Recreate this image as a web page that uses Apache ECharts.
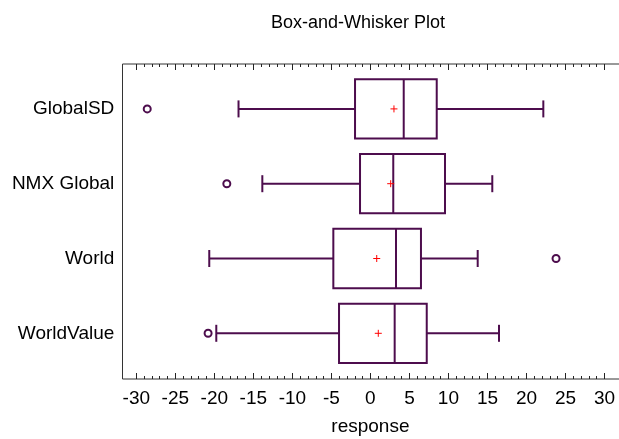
<!DOCTYPE html>
<html>
<head>
<meta charset="utf-8">
<script src="https://cdn.jsdelivr.net/npm/echarts@6/dist/echarts.min.js"></script>
<style>
html,body{margin:0;padding:0;background:#fff;}
#chart{width:619px;height:439px;}
</style>
</head>
<body>
<div id="chart"></div>
<script>
const categories = ['GlobalSD', 'NMX Global', 'World', 'WorldValue'];
const lowWhisker = [-16.9, -13.85, -20.65, -19.75];
const q1 = [-1.97, -1.33, -4.75, -4.02];
const median = [4.27, 2.93, 3.28, 3.11];
const q3 = [8.5, 9.56, 6.48, 7.22];
const highWhisker = [22.16, 15.62, 13.75, 16.48];
const means = [3.02, 2.6, 0.81, 1.01];
const outlierCats = ['GlobalSD', 'NMX Global', 'World', 'WorldValue'];
const outlierVals = [-28.6, -18.4, 23.79, -20.8];
const xTickMin = -30, xTickMax = 30, xTickStep = 5;

const PURPLE = '#4d0d4d';
const FONT = "'Liberation Sans', Arial, sans-serif";

const boxData = categories.map((c, i) => [i, lowWhisker[i], q1[i], median[i], q3[i], highWhisker[i], means[i]]);
const outlierData = outlierVals.map((v, i) => [v, categories.indexOf(outlierCats[i])]);

const chart = echarts.init(document.getElementById('chart'), null, {renderer: 'canvas'});

chart.setOption({
  animation: false,
  backgroundColor: '#ffffff',
  title: {
    text: 'Box-and-Whisker Plot',
    left: 271, top: 14, padding: 0,
    textStyle: {fontFamily: FONT, fontSize: 18, fontWeight: 'normal', color: '#000'}
  },
  grid: [
    {left: 122.5, right: -2, top: 64, bottom: 60, show: true, borderColor: '#333', borderWidth: 1, backgroundColor: 'transparent', outerBoundsMode: 'none', containLabel: false},
    {left: 136.3, right: 14.5, top: 64, bottom: 60, outerBoundsMode: 'none', containLabel: false},
    {left: 136.3, right: 14.5, top: 71.5, height: 299.2, outerBoundsMode: 'none', containLabel: false}
  ],
  xAxis: [
    {gridIndex: 0, type: 'value', show: false, min: 0, max: 1},
    {gridIndex: 1, type: 'value', position: 'bottom', min: xTickMin, max: xTickMax, interval: xTickStep,
      axisLine: {show: false}, splitLine: {show: false},
      axisTick: {show: true, inside: true, length: 6, lineStyle: {color: '#222', width: 1}},
      minorTick: {show: true, splitNumber: 5, length: 3, lineStyle: {color: '#222', width: 1}},
      axisLabel: {margin: 10, fontFamily: FONT, fontSize: 19, color: '#000'},
      name: 'response', nameLocation: 'middle', nameGap: 38,
      nameTextStyle: {fontFamily: FONT, fontSize: 19, color: '#000'}
    },
    {gridIndex: 1, type: 'value', position: 'top', min: xTickMin, max: xTickMax, interval: xTickStep,
      axisLine: {show: false}, splitLine: {show: false}, axisLabel: {show: false},
      axisTick: {show: true, inside: true, length: 6, lineStyle: {color: '#222', width: 1}},
      minorTick: {show: true, splitNumber: 5, length: 3, lineStyle: {color: '#222', width: 1}}
    },
    {gridIndex: 2, type: 'value', min: xTickMin, max: xTickMax, show: false}
  ],
  yAxis: [
    {gridIndex: 0, type: 'value', show: false, min: 0, max: 1},
    {gridIndex: 1, type: 'value', show: false, min: 0, max: 1},
    {gridIndex: 2, type: 'category', data: categories, inverse: true,
      axisLine: {show: false}, axisTick: {show: false}, splitLine: {show: false},
      axisLabel: {margin: 22, fontFamily: FONT, fontSize: 19, color: '#000'}
    }
  ],
  series: [
    {
      type: 'custom',
      xAxisIndex: 3, yAxisIndex: 2,
      encode: {x: [1, 2, 3, 4, 5, 6], y: 0},
      data: boxData,
      renderItem: function (params, api) {
        const idx = api.value(0);
        const pLow = api.coord([api.value(1), idx]);
        const pQ1 = api.coord([api.value(2), idx]);
        const pMed = api.coord([api.value(3), idx]);
        const pQ3 = api.coord([api.value(4), idx]);
        const pHigh = api.coord([api.value(5), idx]);
        const pMean = api.coord([api.value(6), idx]);
        const band = api.size([0, 1])[1];
        const bh = band * 0.793;
        const cap = 17;
        const y = pMed[1];
        const ls = {stroke: PURPLE, lineWidth: 2, fill: null};
        const m = 3.5;
        return {
          type: 'group',
          children: [
            {type: 'line', shape: {x1: pLow[0], y1: y, x2: pQ1[0], y2: y}, style: ls},
            {type: 'line', shape: {x1: pQ3[0], y1: y, x2: pHigh[0], y2: y}, style: ls},
            {type: 'line', shape: {x1: pLow[0], y1: y - cap / 2, x2: pLow[0], y2: y + cap / 2}, style: ls},
            {type: 'line', shape: {x1: pHigh[0], y1: y - cap / 2, x2: pHigh[0], y2: y + cap / 2}, style: ls},
            {type: 'rect', shape: {x: pQ1[0], y: y - bh / 2, width: pQ3[0] - pQ1[0], height: bh}, style: {stroke: PURPLE, lineWidth: 2, fill: 'none'}},
            {type: 'line', shape: {x1: pMed[0], y1: y - bh / 2, x2: pMed[0], y2: y + bh / 2}, style: ls},
            {type: 'line', shape: {x1: pMean[0] - m, y1: y, x2: pMean[0] + m, y2: y}, style: {stroke: '#ff0000', lineWidth: 1}},
            {type: 'line', shape: {x1: pMean[0], y1: y - m, x2: pMean[0], y2: y + m}, style: {stroke: '#ff0000', lineWidth: 1}}
          ]
        };
      }
    },
    {
      type: 'scatter',
      xAxisIndex: 3, yAxisIndex: 2,
      data: outlierData,
      symbol: 'circle', symbolSize: 7,
      itemStyle: {color: '#fff', borderColor: PURPLE, borderWidth: 2, opacity: 1}
    }
  ]
});
</script>
</body>
</html>
